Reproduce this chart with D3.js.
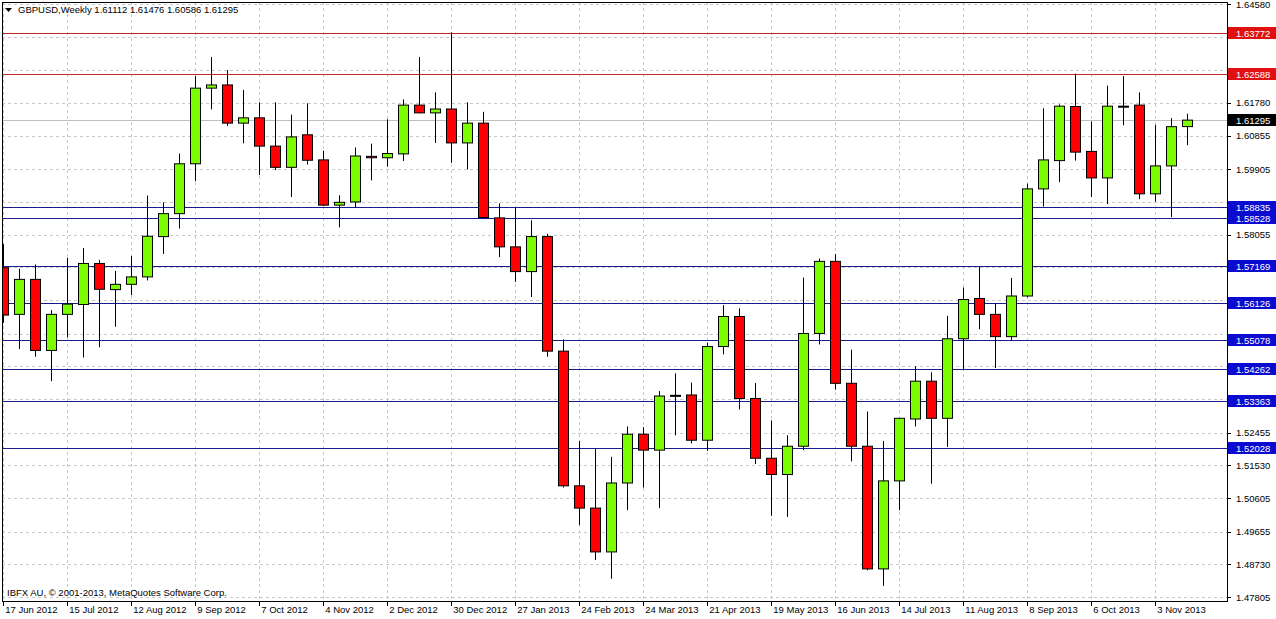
<!DOCTYPE html>
<html><head><meta charset="utf-8">
<script src="https://cdn.jsdelivr.net/npm/d3@7"></script>
<style>body{margin:0;background:#fff}svg{display:block}text{font-family:"Liberation Sans",Arial,sans-serif}</style>
</head><body><svg id="c" width="1276" height="619"></svg>
<script>
const opens  = [1.5712,1.5580,1.5679,1.5478,1.5580,1.5608,1.5724,1.5650,1.5665,1.5686,1.5800,1.5865,1.6006,1.6220,1.6229,1.6121,1.6136,1.6056,1.5996,1.6088,1.6017,1.5889,1.5898,1.6027,1.6023,1.6034,1.6172,1.6150,1.6161,1.6065,1.6121,1.5853,1.5771,1.5701,1.5800,1.5476,1.5095,1.5032,1.4908,1.5103,1.5241,1.5196,1.5351,1.5352,1.5224,1.5489,1.5574,1.5342,1.5173,1.5127,1.5207,1.5526,1.5730,1.5385,1.5207,1.4860,1.5109,1.5284,1.5391,1.5286,1.5511,1.5625,1.5580,1.5517,1.5632,1.5935,1.6015,1.6168,1.6041,1.5966,1.6169,1.6172,1.5921,1.6000,1.61112];
const highs  = [1.5779,1.5709,1.5721,1.5592,1.5740,1.5768,1.5734,1.5703,1.5745,1.5916,1.5897,1.6035,1.6254,1.6308,1.6271,1.6215,1.6180,1.6180,1.6145,1.6177,1.6043,1.5917,1.6052,1.6063,1.6132,1.6188,1.6308,1.6208,1.6378,1.6180,1.6153,1.5894,1.5881,1.5846,1.5808,1.5509,1.5222,1.5199,1.5177,1.5263,1.5261,1.5363,1.5413,1.5387,1.5500,1.5606,1.5597,1.5386,1.5280,1.5238,1.5684,1.5738,1.5751,1.5480,1.5305,1.5222,1.5287,1.5433,1.5416,1.5576,1.5656,1.5716,1.5612,1.5683,1.5950,1.6163,1.6174,1.6261,1.6126,1.6227,1.6254,1.6208,1.6116,1.6135,1.61476];
const lows   = [1.5556,1.5482,1.5460,1.5391,1.5515,1.5458,1.5487,1.5545,1.5634,1.5676,1.5751,1.5823,1.5957,1.6160,1.6113,1.6064,1.5974,1.5988,1.5912,1.6004,1.5887,1.5826,1.5881,1.5959,1.5998,1.6014,1.6149,1.6065,1.6009,1.5990,1.5853,1.5742,1.5672,1.5629,1.5460,1.5090,1.4984,1.4885,1.4832,1.5026,1.5090,1.5032,1.5238,1.5215,1.5194,1.5467,1.5311,1.5157,1.5010,1.5007,1.5196,1.5495,1.5367,1.5164,1.4856,1.4812,1.5026,1.5263,1.5101,1.5205,1.5422,1.5538,1.5428,1.5506,1.5628,1.5885,1.5954,1.6015,1.5912,1.5892,1.6115,1.5906,1.5899,1.5855,1.60586];
const closes = [1.5578,1.5679,1.5478,1.5580,1.5609,1.5724,1.5651,1.5665,1.5686,1.5801,1.5865,1.6006,1.6220,1.6229,1.6121,1.6136,1.6056,1.5996,1.6082,1.6016,1.5889,1.5897,1.6028,1.6023,1.6035,1.6172,1.6150,1.6161,1.6065,1.6121,1.5854,1.5771,1.5701,1.5800,1.5476,1.5095,1.5032,1.4908,1.5103,1.5241,1.5196,1.5349,1.5351,1.5224,1.5489,1.5574,1.5342,1.5173,1.5127,1.5207,1.5526,1.5730,1.5385,1.5207,1.4860,1.5109,1.5286,1.5391,1.5286,1.5511,1.5622,1.5580,1.5517,1.5632,1.5935,1.6017,1.6169,1.6039,1.5966,1.6169,1.6169,1.5921,1.6000,1.6111,1.61295];
const dateLabels = ["17 Jun 2012","15 Jul 2012","12 Aug 2012","9 Sep 2012","7 Oct 2012","4 Nov 2012","2 Dec 2012","30 Dec 2012","27 Jan 2013","24 Feb 2013","24 Mar 2013","21 Apr 2013","19 May 2013","16 Jun 2013","14 Jul 2013","11 Aug 2013","8 Sep 2013","6 Oct 2013","3 Nov 2013"];
const priceTicks = [1.64580,1.63650,1.62705,1.61780,1.60855,1.59905,1.58980,1.58055,1.57130,1.56205,1.55255,1.54330,1.53405,1.52455,1.51530,1.50605,1.49655,1.48730,1.47805];
const redLevels = [1.63772,1.62588];
const blueLevels = [1.58835,1.58528,1.57169,1.56126,1.55078,1.54262,1.53363,1.52028];
const lastPrice = 1.61295;

const svg = d3.select("#c");
const L=2, R=1227, T=2, B=601;
const y = d3.scaleLinear().domain([1.47805,1.64580]).range([597,4]);
const x = d3.scaleLinear().domain([0,74]).range([3.3,1187.3]);
const bw = 10, fs = 9.5;

const g = svg.append("g");
g.append("defs").append("clipPath").attr("id","cp").append("rect").attr("x",L).attr("y",T).attr("width",R-L).attr("height",B-T);
const py = v=>Math.round(y(v))+0.5;

g.append("g").selectAll("line").data(priceTicks).join("line")
 .attr("x1",L).attr("x2",R).attr("y1",py).attr("y2",py)
 .attr("stroke","#c8c8c8").attr("stroke-dasharray","3,3");
g.append("g").selectAll("line").data(dateLabels).join("line")
 .attr("x1",(d,i)=>Math.round(x(i*4))+0.5).attr("x2",(d,i)=>Math.round(x(i*4))+0.5).attr("y1",T).attr("y2",B)
 .attr("stroke","#c8c8c8").attr("stroke-dasharray","3,3");
g.append("line").attr("x1",L).attr("x2",R).attr("y1",py(lastPrice)).attr("y2",py(lastPrice)).attr("stroke","#c0c0c0");
const lv = g.append("g");
lv.selectAll(".r").data(redLevels).join("line").attr("x1",L).attr("x2",R)
 .attr("y1",py).attr("y2",py).attr("stroke","#c02828");
lv.selectAll(".b").data(blueLevels).join("line").attr("x1",L).attr("x2",R)
 .attr("y1",py).attr("y2",py).attr("stroke","#1a1a8c");

const data = opens.map((o,i)=>({i,o,h:highs[i],l:lows[i],c:closes[i]}));
const cg = g.append("g").attr("clip-path","url(#cp)");
cg.selectAll(".w").data(data).join("line")
 .attr("x1",d=>Math.round(x(d.i))+0.5).attr("x2",d=>Math.round(x(d.i))+0.5)
 .attr("y1",d=>y(d.h)).attr("y2",d=>y(d.l)).attr("stroke","#000");
cg.selectAll(".bd").data(data).join("rect")
 .attr("x",d=>Math.round(x(d.i))-bw/2+0.5).attr("width",bw)
 .attr("y",d=>y(Math.max(d.o,d.c))).attr("height",d=>Math.max(1,Math.abs(y(d.o)-y(d.c))))
 .attr("fill",d=>d.c>d.o?"#7cfc00":(d.c<d.o?"#ff0000":"#000")).attr("stroke","#000");

g.append("rect").attr("x",L+0.5).attr("y",T+0.5).attr("width",R-L).attr("height",B-T).attr("fill","none").attr("stroke","#000");

const boxed = redLevels.concat(blueLevels,[lastPrice]);
const visTicks = priceTicks.filter(t=>!boxed.some(b=>Math.abs(y(b)-y(t))<12));
const ax = g.append("g");
ax.selectAll("line").data(priceTicks).join("line").attr("x1",R).attr("x2",R+4)
 .attr("y1",py).attr("y2",py).attr("stroke","#000");
ax.selectAll("text").data(visTicks).join("text").attr("x",1236).attr("y",d=>y(d)+3.5)
 .attr("font-size",fs).attr("fill","#000").text(d=>d.toFixed(5));
function box(v,fill){
 const yy=Math.round(y(v));
 g.append("rect").attr("x",R+1).attr("y",yy-6).attr("width",48).attr("height",12).attr("fill",fill);
 g.append("text").attr("x",1236).attr("y",yy+3.5).attr("font-size",fs).attr("fill","#fff").text(v.toFixed(5));
}
redLevels.forEach(v=>box(v,"#e01010"));
blueLevels.forEach(v=>box(v,"#0a0ad0"));
box(lastPrice,"#000");

const dx = g.append("g");
dx.selectAll("line").data(dateLabels).join("line")
 .attr("x1",(d,i)=>Math.round(x(i*4))+0.5).attr("x2",(d,i)=>Math.round(x(i*4))+0.5).attr("y1",B).attr("y2",B+5).attr("stroke","#000");
dx.selectAll("text").data(dateLabels).join("text").attr("x",(d,i)=>x(i*4)+2).attr("y",613)
 .attr("font-size",fs).attr("fill","#000").text(d=>d);

g.append("path").attr("d","M5,8 L12,8 L8.5,12 Z").attr("fill","#000");
g.append("text").attr("x",18).attr("y",13).attr("font-size",fs).text("GBPUSD,Weekly  1.61112 1.61476 1.60586 1.61295");
g.append("text").attr("x",7).attr("y",596).attr("font-size",fs).text("IBFX AU, © 2001-2013, MetaQuotes Software Corp.");
</script></body></html>
